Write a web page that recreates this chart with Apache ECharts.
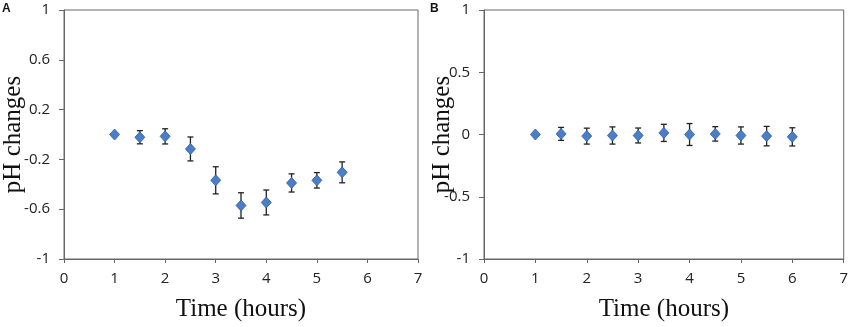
<!DOCTYPE html>
<html>
<head>
<meta charset="utf-8">
<script src="https://cdn.jsdelivr.net/npm/echarts@6/dist/echarts.min.js"></script>
<style>
  html, body { margin: 0; padding: 0; background: #fff; }
  #chart { width: 851px; height: 327px; }
</style>
</head>
<body>
<div id="chart"></div>
<script>
// panel A
const timeA = [1, 1.5, 2, 2.5, 3, 3.5, 4, 4.5, 5, 5.5]
const phA = [0, -0.022, -0.015, -0.116, -0.368, -0.57, -0.546, -0.389, -0.368, -0.304]
const errA = [0, 0.053, 0.061, 0.096, 0.109, 0.102, 0.1, 0.073, 0.062, 0.084]

// panel B
const timeB = [1, 1.5, 2, 2.5, 3, 3.5, 4, 4.5, 5, 5.5, 6]
const phB = [0, 0.005, -0.013, -0.008, -0.008, 0.013, 0, 0.005, -0.008, -0.013, -0.019]
const errB = [0, 0.052, 0.064, 0.069, 0.06, 0.069, 0.088, 0.058, 0.069, 0.078, 0.073]

const myChart = echarts.init(document.getElementById('chart'))

const axisColor = '#666'
const labelFont = { color: '#222', fontSize: 15, fontFamily: 'Open Sans' }
const titleFont = { color: '#111', fontSize: 25, fontFamily: 'Liberation Serif' }

function xAxis (gridIndex) {
  return {
    gridIndex,
    type: 'value',
    min: 0,
    max: 7,
    interval: 1,
    name: 'Time (hours)',
    nameLocation: 'middle',
    nameGap: 38,
    nameMoveOverlap: false,
    nameTextStyle: titleFont,
    axisLine: { onZero: false, lineStyle: { color: axisColor } },
    axisTick: { length: 4, lineStyle: { color: axisColor } },
    axisLabel: Object.assign({ margin: 12 }, labelFont),
    splitLine: { show: false }
  }
}

function yAxis (gridIndex, interval, nameGap) {
  return {
    gridIndex,
    type: 'value',
    min: -1,
    max: 1,
    interval,
    name: 'pH changes',
    nameLocation: 'middle',
    nameGap,
    nameMoveOverlap: false,
    nameTextStyle: titleFont,
    axisLine: { show: true, lineStyle: { color: axisColor } },
    axisTick: { show: true, length: 5, lineStyle: { color: axisColor } },
    axisLabel: Object.assign({ margin: 14 }, labelFont),
    splitLine: { show: false }
  }
}

function points (xs, ys, es) {
  return xs.map((x, i) => [x, ys[i], ys[i] - es[i], ys[i] + es[i]])
}

function errorBars (idx, data) {
  return {
    type: 'custom',
    xAxisIndex: idx,
    yAxisIndex: idx,
    data,
    encode: { x: 0, y: [2, 3] },
    renderItem: (params, api) => {
      const x = api.value(0)
      if (api.value(3) - api.value(2) < 1e-6) return
      const lo = api.coord([x, api.value(2)])
      const hi = api.coord([x, api.value(3)])
      const w = 3
      const style = { stroke: '#222', lineWidth: 1.3 }
      return {
        type: 'group',
        children: [
          { type: 'line', shape: { x1: lo[0], y1: lo[1], x2: hi[0], y2: hi[1] }, style },
          { type: 'line', shape: { x1: lo[0] - w, y1: lo[1], x2: lo[0] + w, y2: lo[1] }, style },
          { type: 'line', shape: { x1: hi[0] - w, y1: hi[1], x2: hi[0] + w, y2: hi[1] }, style }
        ]
      }
    },
    z: 2
  }
}

function marks (idx, xs, ys) {
  return {
    type: 'scatter',
    xAxisIndex: idx,
    yAxisIndex: idx,
    data: xs.map((x, i) => [x, ys[i]]),
    symbol: 'diamond',
    symbolSize: [10, 11],
    itemStyle: { color: '#4a7ec8', borderColor: '#2d5e9e', borderWidth: 0.8, opacity: 1 },
    z: 3
  }
}

const option = {
  animation: false,
  graphic: [
    { type: 'text', left: 2, top: 3, style: { text: 'A', font: 'bold 12px Liberation Sans', fill: '#111' } },
    { type: 'text', left: 430, top: 3, style: { text: 'B', font: 'bold 12px Liberation Sans', fill: '#111' } }
  ],
  grid: [
    { left: 64, top: 10, width: 354, height: 251, show: true, borderColor: axisColor, borderWidth: 1 },
    { left: 484, top: 10, width: 361, height: 251, show: true, borderColor: axisColor, borderWidth: 1 }
  ],
  xAxis: [xAxis(0), xAxis(1)],
  yAxis: [yAxis(0, 0.4, 38), yAxis(1, 0.5, 29)],
  series: [
    errorBars(0, points(timeA, phA, errA)),
    marks(0, timeA, phA),
    errorBars(1, points(timeB, phB, errB)),
    marks(1, timeB, phB)
  ]
}

myChart.setOption(option)

window.addEventListener('resize', () => {
  myChart.resize()
})
</script>
</body>
</html>
